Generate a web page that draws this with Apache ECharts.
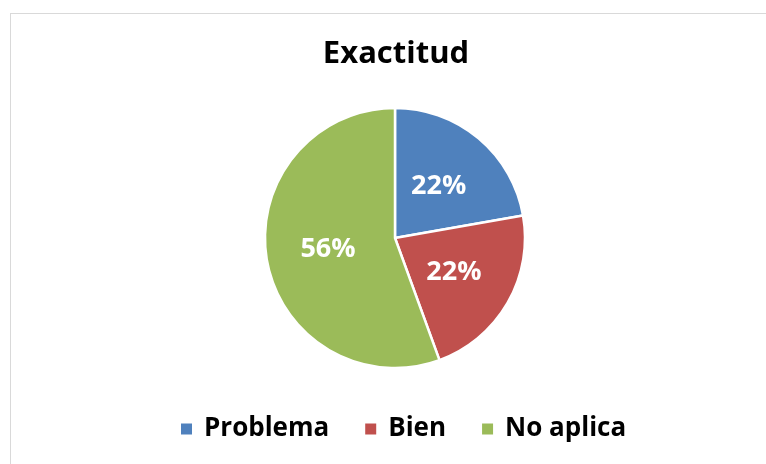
<!DOCTYPE html>
<html>
<head>
<meta charset="utf-8">
<script src="https://cdn.jsdelivr.net/npm/echarts@6/dist/echarts.min.js"></script>
<style>
  html, body { margin: 0; padding: 0; background: #fff; }
  #chart { width: 766px; height: 464px; }
  .frame {
    position: absolute; left: 10px; top: 13px; width: 800px; height: 500px;
    border: 1px solid #d9d9d9; box-sizing: border-box; pointer-events: none;
  }
</style>
</head>
<body>
<div id="chart"></div>
<div class="frame"></div>
<script>
var categories = ['Problema', 'Bien', 'No aplica']
var values = [2, 2, 5]
var colors = ['#4F81BD', '#C0504D', '#9BBB59']

var myChart = echarts.init(document.getElementById('chart'))
var font = 'Open Sans'

var option = {
  animation: false,
  title: {
    text: 'Exactitud',
    left: 391,
    top: 34,
    textAlign: 'center',
    textStyle: { fontFamily: font, fontWeight: 'bold', fontSize: 31, color: '#000' }
  },
  legend: {
    data: categories,
    bottom: 17,
    left: 174,
    itemWidth: 13,
    itemHeight: 13,
    itemGap: 34,
    icon: 'rect',
    textStyle: {
      fontFamily: font, fontWeight: 'bold', fontSize: 26, color: '#000',
      padding: [0, 0, 0, 6]
    }
  },
  series: [
    {
      type: 'pie',
      center: [395, 238],
      radius: 130,
      startAngle: 90,
      clockwise: true,
      itemStyle: { borderColor: '#fff', borderWidth: 2.5 },
      label: {
        position: 'inside',
        color: '#fff',
        fontFamily: font,
        fontWeight: 'bold',
        fontSize: 27,
        formatter: function(p) { return Math.round(p.percent) + '%' }
      },
      labelLine: { show: false },
      emphasis: { disabled: true },
      data: categories.map(function(c, i) {
        return { name: c, value: values[i], itemStyle: { color: colors[i] } }
      })
    }
  ]
}
myChart.setOption(option)
</script>
</body>
</html>
